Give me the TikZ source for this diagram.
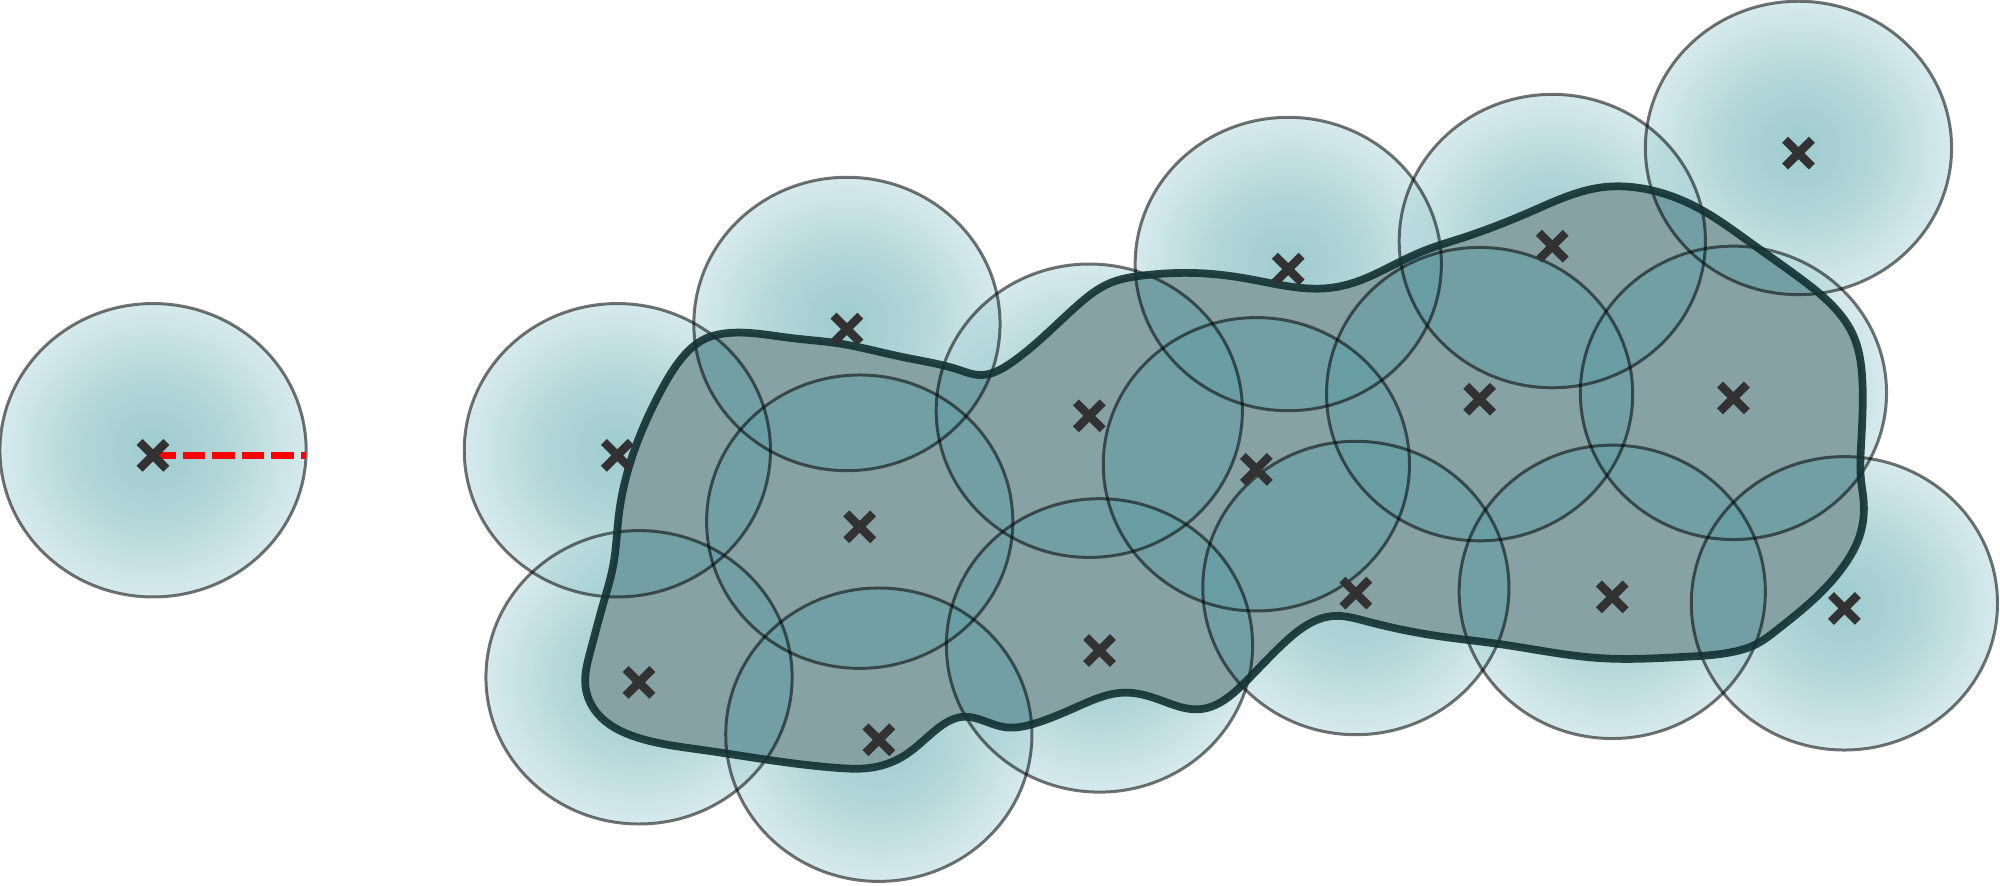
\documentclass[tikz,border=0pt]{standalone}
\usetikzlibrary{shadings,hobby}
\definecolor{kreisinnen}{RGB}{79,160,166}
\definecolor{kreismitte}{RGB}{115,180,184}
\definecolor{kreisaussen}{RGB}{180,217,220}
\definecolor{kreisflach}{RGB}{95,157,163}
\definecolor{gebietfuell}{RGB}{175,169,167}
\definecolor{gebietrand}{RGB}{18,48,50}
\definecolor{kreuzfarbe}{RGB}{50,50,50}
\pgfdeclareradialshading{kreisverlauf}{\pgfpoint{0bp}{0bp}}{color(0bp)=(kreisinnen); color(12bp)=(kreismitte); color(25bp)=(kreisaussen); color(50bp)=(kreisaussen)}
\tikzset{
	kreis/.style={shading=kreisverlauf, fill opacity=0.55},
	kreisinnen/.style={fill=kreisflach, fill opacity=0.5},
	kreisrand/.style={draw=black, draw opacity=0.55, line width=0.85pt},
	gebiet/.style={fill=gebietfuell},
	gebietlinie/.style={draw=gebietrand, draw opacity=0.9, line width=2.2pt},
	kreuz/.style={draw=kreuzfarbe, line width=2.4pt},
	halbmesser/.style={red, line width=1.8pt, dash pattern=on 6.5pt off 1.9pt}
}
\begin{document}
\begin{tikzpicture}[x=0.12755mm, y=-0.12755mm]
	\useasboundingbox (0,0) rectangle (1568,694);
	% Mittelpunkte festlegen
	\foreach \x/\y [count=\i] in {120/357, 484/357, 664/258, 674/413, 854/326, 1010/211,
		1217/193, 1410/120, 1160/313, 1359/312, 985/368, 1063/465, 1264/468, 1446/477,
		862/510, 689/580, 501/535}
		\coordinate (m\i) at (\x,\y);
	% Gebiet (Umriss)
	\def\umriss{plot[closed hobby] coordinates {
		(572,261) (620,265) (656,269) (708,280) (752,290) (768,294) (792,285) (818,264)
		(844,240) (870,222) (896,216) (935,214) (975,218) (1014,225) (1040,226) (1066,220)
		(1092,208) (1118,196) (1145,187) (1200,166) (1255,147) (1294,149) (1333,164)
		(1372,190) (1411,218) (1437,240) (1453,263) (1460,297) (1459,350) (1459,376)
		(1461,392) (1458,420) (1448,440) (1424,468) (1393,494) (1377,505) (1359,511)
		(1320,515) (1255,516) (1176,505) (1123,498) (1071,487) (1045,483) (1009,502)
		(975,536) (941,556) (910,549) (882,543) (847,553) (812,567) (787,570) (755,562)
		(734,572) (708,593) (682,602) (656,602) (604,596) (551,588) (499,578) (468,559)
		(459,538) (463,510) (473,473) (481,442) (485,405) (494,363) (507,329) (520,303)
		(536,279) (552,266)}}
	% Kreisflaechen
	\foreach \i in {1,...,17}
		\shade[kreis] ([yshift=0.51mm]m\i) ellipse [x radius=15.31mm, y radius=14.67mm];
	% Kreisflaechen innerhalb des Gebiets
	\begin{scope}
		\clip \umriss;
		\fill[gebiet] (0,0) rectangle (1568,694);
		\foreach \i in {1,...,17}
			\fill[kreisinnen] ([yshift=0.51mm]m\i) ellipse [x radius=15.31mm, y radius=14.67mm];
	\end{scope}
	% Kreisraender
	\foreach \i in {1,...,17}
		\draw[kreisrand] ([yshift=0.51mm]m\i) ellipse [x radius=15.31mm, y radius=14.67mm];
	\draw[gebietlinie] \umriss;
	% Radius einzeichnen
	\coordinate (r1) at (240,357);
	\draw[halbmesser] (m1) -- (r1);
	% Kreuze setzen
	\foreach \i in {1,...,17}
		\draw[kreuz] (m\i) +(-10.5,-10.5) -- +(10.5,10.5) (m\i) +(-10.5,10.5) -- +(10.5,-10.5);
\end{tikzpicture}
\end{document}
